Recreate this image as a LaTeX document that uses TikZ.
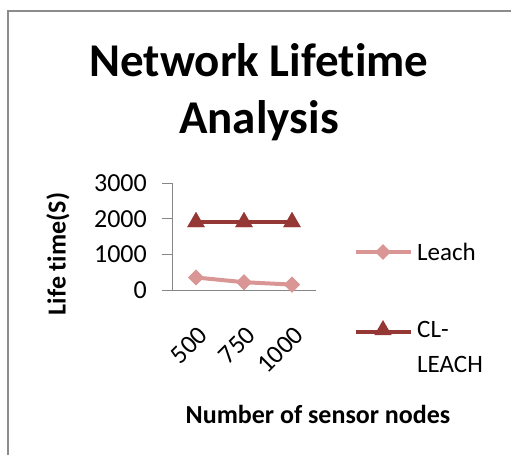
\documentclass[tikz,border=0pt]{standalone}
\usepackage{fontspec}
\setmainfont[Ligatures={NoCommon}]{Carlito}
\usetikzlibrary{shapes.geometric}
\definecolor{leachc}{RGB}{217,150,148}
\definecolor{clc}{RGB}{149,55,53}
\definecolor{framec}{RGB}{140,140,140}
\definecolor{axisc}{RGB}{134,134,134}
\begin{document}
\begin{tikzpicture}[x=1pt,y=-1pt,
  ticklab/.style={font=\fontsize{26}{30}\selectfont, anchor=east, inner sep=0pt},
  xlab/.style={font=\fontsize{26}{30}\selectfont, anchor=east, rotate=45, inner sep=0pt},
  axtitle/.style={font=\fontsize{26}{30}\selectfont\bfseries, inner sep=0pt},
  dmark/.style={diamond, fill=leachc, inner sep=0pt, minimum size=16pt},
  tmark/.style={regular polygon, regular polygon sides=3, fill=clc, inner sep=0pt, minimum size=20pt},
  leachline/.style={leachc, line width=4pt},
  clline/.style={clc, line width=4pt},
  legtext/.style={font=\fontsize{25}{35}\selectfont, inner sep=0pt, align=left}
]
\useasboundingbox (0,0) rectangle (511,455);
\draw[framec, line width=2pt] (8,455) -- (8,11) -- (511,11);

% title
\node[font=\fontsize{47}{57}\selectfont\bfseries, align=center, inner sep=0pt] (title) at (259,92) {Network Lifetime\\Analysis};

% axes
\coordinate (o) at (172,290);
\coordinate (ytop) at (172,183);
\coordinate (xend) at (316,290);
\draw[axisc, line width=1pt] (ytop) -- (o) -- (xend);
\foreach \v/\yy in {0/290,1000/254.3,2000/218.7,3000/183}{
  \coordinate (t\v) at (172,\yy);
  \coordinate (tl\v) at (162,\yy);
  \draw[axisc, line width=1pt] (tl\v) -- (t\v);
  \node[ticklab] (lab\v) at (147,\yy) {\v};
}
\node[axtitle, rotate=90] (ytitle) at (58,254) {Life time(S)};
\node[axtitle] (xtitle) at (318,414) {Number of sensor nodes};

% category labels
\node[xlab] (c1) at (203,331) {500};
\node[xlab] (c2) at (251,331) {750};
\node[xlab] (c3) at (299,331) {1000};

% data
\node[tmark] (b1) at (196,222) {};
\node[tmark] (b2) at (244,222) {};
\node[tmark] (b3) at (292,222) {};
\draw[clline] (b1.center) -- (b2.center) -- (b3.center);
\node[tmark] at (b1) {};
\node[tmark] at (b2) {};
\node[tmark] at (b3) {};

\node[dmark] (a1) at (196,277.5) {};
\node[dmark] (a2) at (244,282.2) {};
\node[dmark] (a3) at (292,284.6) {};
\draw[leachline] (a1.center) -- (a2.center) -- (a3.center);
\node[dmark] at (a1) {};
\node[dmark] at (a2) {};
\node[dmark] at (a3) {};

% legend
\coordinate (l1a) at (356,252);
\coordinate (l1b) at (411,252);
\draw[leachline] (l1a) -- (l1b);
\node[dmark] (lm1) at (383,252) {};
\node[legtext, anchor=west] (lt1) at (417,252) {Leach};

\coordinate (l2a) at (356,332);
\coordinate (l2b) at (411,332);
\draw[clline] (l2a) -- (l2b);
\node[tmark] (lm2) at (383,330) {};
\node[legtext, anchor=north west] (lt2) at (417,321) {CL-\\LEACH};
\end{tikzpicture}
\end{document}
